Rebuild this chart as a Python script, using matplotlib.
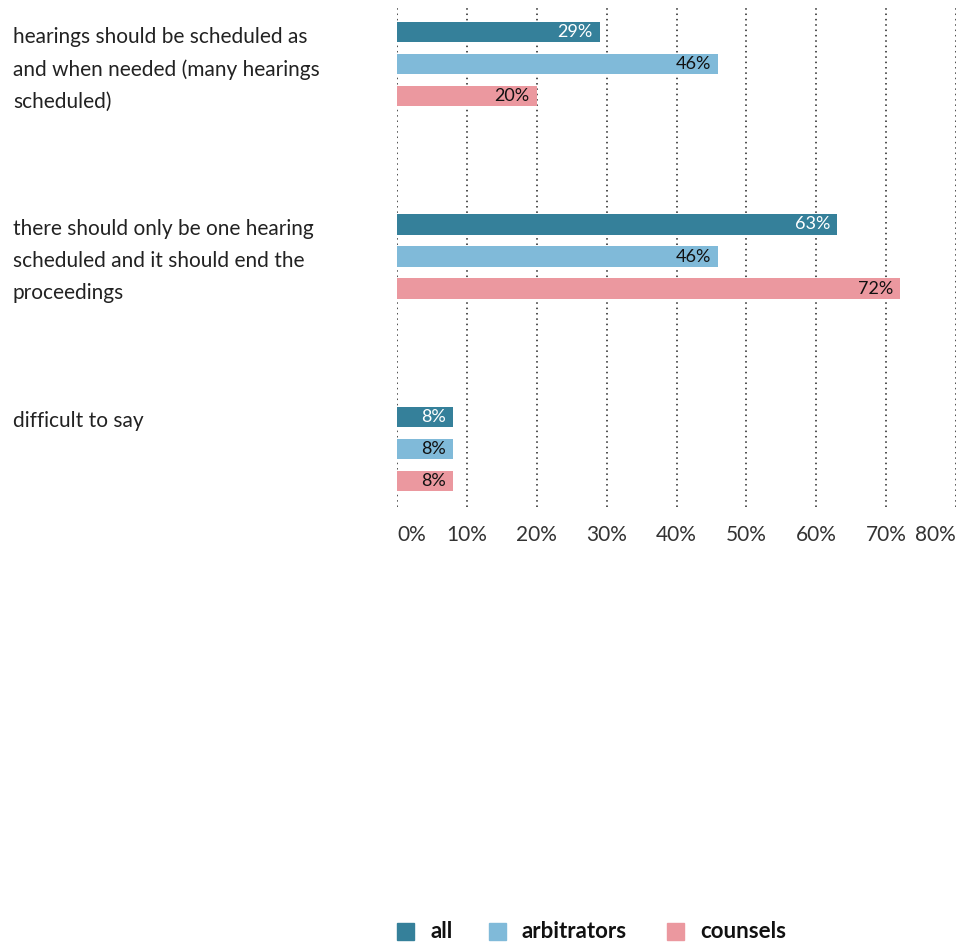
import numpy as np
import matplotlib
matplotlib.use("Agg")
import matplotlib.pyplot as plt
from matplotlib.patches import Rectangle

plt.rcParams['font.family'] = ['Lato', 'DejaVu Sans']

# survey answers, one group of bars per answer
categories = [
    "hearings should be scheduled as\nand when needed (many hearings\nscheduled)",
    "there should only be one hearing\nscheduled and it should end the\nproceedings",
    "difficult to say",
]
series_names = ["all", "arbitrators", "counsels"]
all_vals = [29, 63, 8]
arbitrators_vals = [46, 46, 8]
counsels_vals = [20, 72, 8]
tick_vals = [0, 10, 20, 30, 40, 50, 60, 70, 80]
tick_labels = [f"{t}%" for t in tick_vals]

colors = ["#35809a", "#80bad9", "#eb989f"]
text_colors = ["white", "#111111", "#111111"]

W, H = 963, 942
fig = plt.figure(figsize=(W / 100, H / 100), dpi=100)
ax = fig.add_axes([397 / W, 1 - 507 / H, (956 - 397) / W, 499 / H])

group_gap = 6
bar_h = 0.64
values = [all_vals, arbitrators_vals, counsels_vals]
for j, vals in enumerate(values):
    ys = np.arange(len(categories)) * group_gap + j
    bars = ax.barh(ys, vals, height=bar_h, color=colors[j], zorder=2)
    for b, v in zip(bars, vals):
        ax.text(v - 1.0, b.get_y() + b.get_height() / 2, f"{v}%",
                ha='right', va='center', fontsize=13, color=text_colors[j],
                zorder=3)

ax.set_xlim(0, 80)
ax.set_ylim(14.81, -0.75)
ax.set_yticks([])
ax.set_xticks(tick_vals)
ax.set_xticklabels(tick_labels, fontsize=15, color='#333333')
ax.tick_params(axis='x', length=0, pad=13)
labels = ax.get_xticklabels()
labels[0].set_horizontalalignment('left')
labels[-1].set_horizontalalignment('right')

for t in tick_vals:
    ax.axvline(t, color='#222222', lw=1.1, ls=(0, (1, 2.5)), zorder=1)
for s in ax.spines.values():
    s.set_visible(False)

# answer texts on the left, first line level with the first bar of each group
for i, cat in enumerate(categories):
    y_px = 27 + i * 192
    fig.text(13 / W, 1 - y_px / H, cat, ha='left', va='top',
             fontsize=15, color='#222222', linespacing=1.75)

# legend drawn by hand along the bottom edge
leg_x = [397, 489, 667]
for x, c, name in zip(leg_x, colors, series_names):
    fig.patches.append(Rectangle((x / W, 1 - 940 / H), 17 / W, 17 / H,
                                 transform=fig.transFigure, color=c))
    fig.text((x + 33) / W, 1 - 932 / H, name, ha='left', va='center',
             fontsize=16, fontweight='bold', color='#111111')

fig.savefig("out.png", dpi=100)
